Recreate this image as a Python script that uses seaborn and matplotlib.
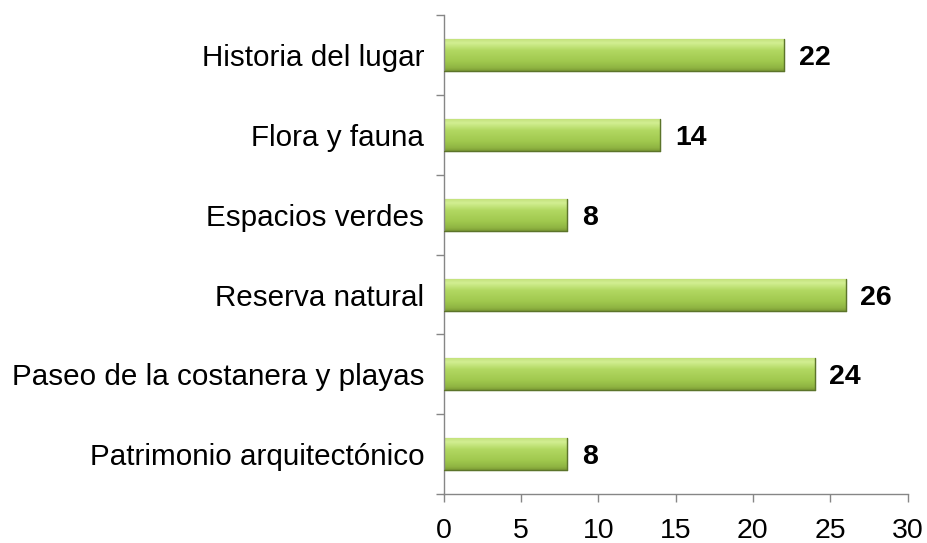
import numpy as np
import pandas as pd
import matplotlib
matplotlib.use('Agg')
import matplotlib.pyplot as plt
from matplotlib.colors import LinearSegmentedColormap
import seaborn as sns

# Dados
categorias = ['Historia del lugar', 'Flora y fauna', 'Espacios verdes',
              'Reserva natural', 'Paseo de la costanera y playas',
              'Patrimonio arquitectónico']
valores = [22, 14, 8, 26, 24, 8]

df = pd.DataFrame({'categoria': categorias, 'valor': valores})

sns.set_style('white')
plt.rcParams['font.family'] = ['Liberation Sans', 'DejaVu Sans']

fig = plt.figure(figsize=(9.28, 5.43), dpi=100)
ax = fig.add_axes([0.478, 0.090, 0.500, 0.882])

sns.barplot(data=df, y='categoria', x='valor', orient='h', width=0.4,
            color='#9BBB59', edgecolor='#66802e', linewidth=0.8, ax=ax)

# Gradiente verde em cada barra (efeito bisel)
cmap = LinearSegmentedColormap.from_list(
    'verde', [(0, '#c4e27c'), (0.12, '#d2ee92'), (0.35, '#b2d862'),
              (0.7, '#a0c84e'), (0.9, '#8fb442'), (1, '#7a9a34')])
grad = np.linspace(0, 1, 256).reshape(-1, 1)
for p in ax.patches:
    x0, y0 = p.get_x(), p.get_y()
    w, h = p.get_width(), p.get_height()
    im = ax.imshow(grad, cmap=cmap, aspect='auto',
                   extent=[x0, x0 + w, y0 + h, y0], origin='upper', zorder=p.get_zorder() + 0.1)
    im.set_clip_path(p)
    ax.plot([x0, x0 + w], [y0 + h, y0 + h], color='#5c742a', lw=1.0, zorder=3)
    ax.plot([x0 + w, x0 + w], [y0, y0 + h], color='#5c742a', lw=1.0, zorder=3)
    ax.text(x0 + w + 0.95, y0 + h / 2, f'{int(w)}', va='center_baseline', ha='left',
            fontsize=20.5, fontweight='bold', color='black')

ax.set_xlim(0, 30)
ax.set_ylim(5.5, -0.5)
ax.set_xticks(range(0, 31, 5))
ax.set_yticks(range(len(categorias)))
ax.set_yticks(np.arange(-0.5, len(categorias), 1), minor=True)
ax.set_xlabel('')
ax.set_ylabel('')

for s in ['top', 'right']:
    ax.spines[s].set_visible(False)
for s in ['left', 'bottom']:
    ax.spines[s].set_color('#868686')
    ax.spines[s].set_linewidth(1)

ax.tick_params(axis='y', which='major', length=0, pad=14, labelsize=21.3, labelcolor='black')
ax.tick_params(axis='y', which='minor', length=6, width=1, color='#868686', direction='out', left=True)
ax.tick_params(axis='x', which='major', length=6, width=1, color='#868686', direction='out',
               bottom=True, pad=11, labelsize=20.5, labelcolor='black')

fig.savefig('out.png', dpi=100)
